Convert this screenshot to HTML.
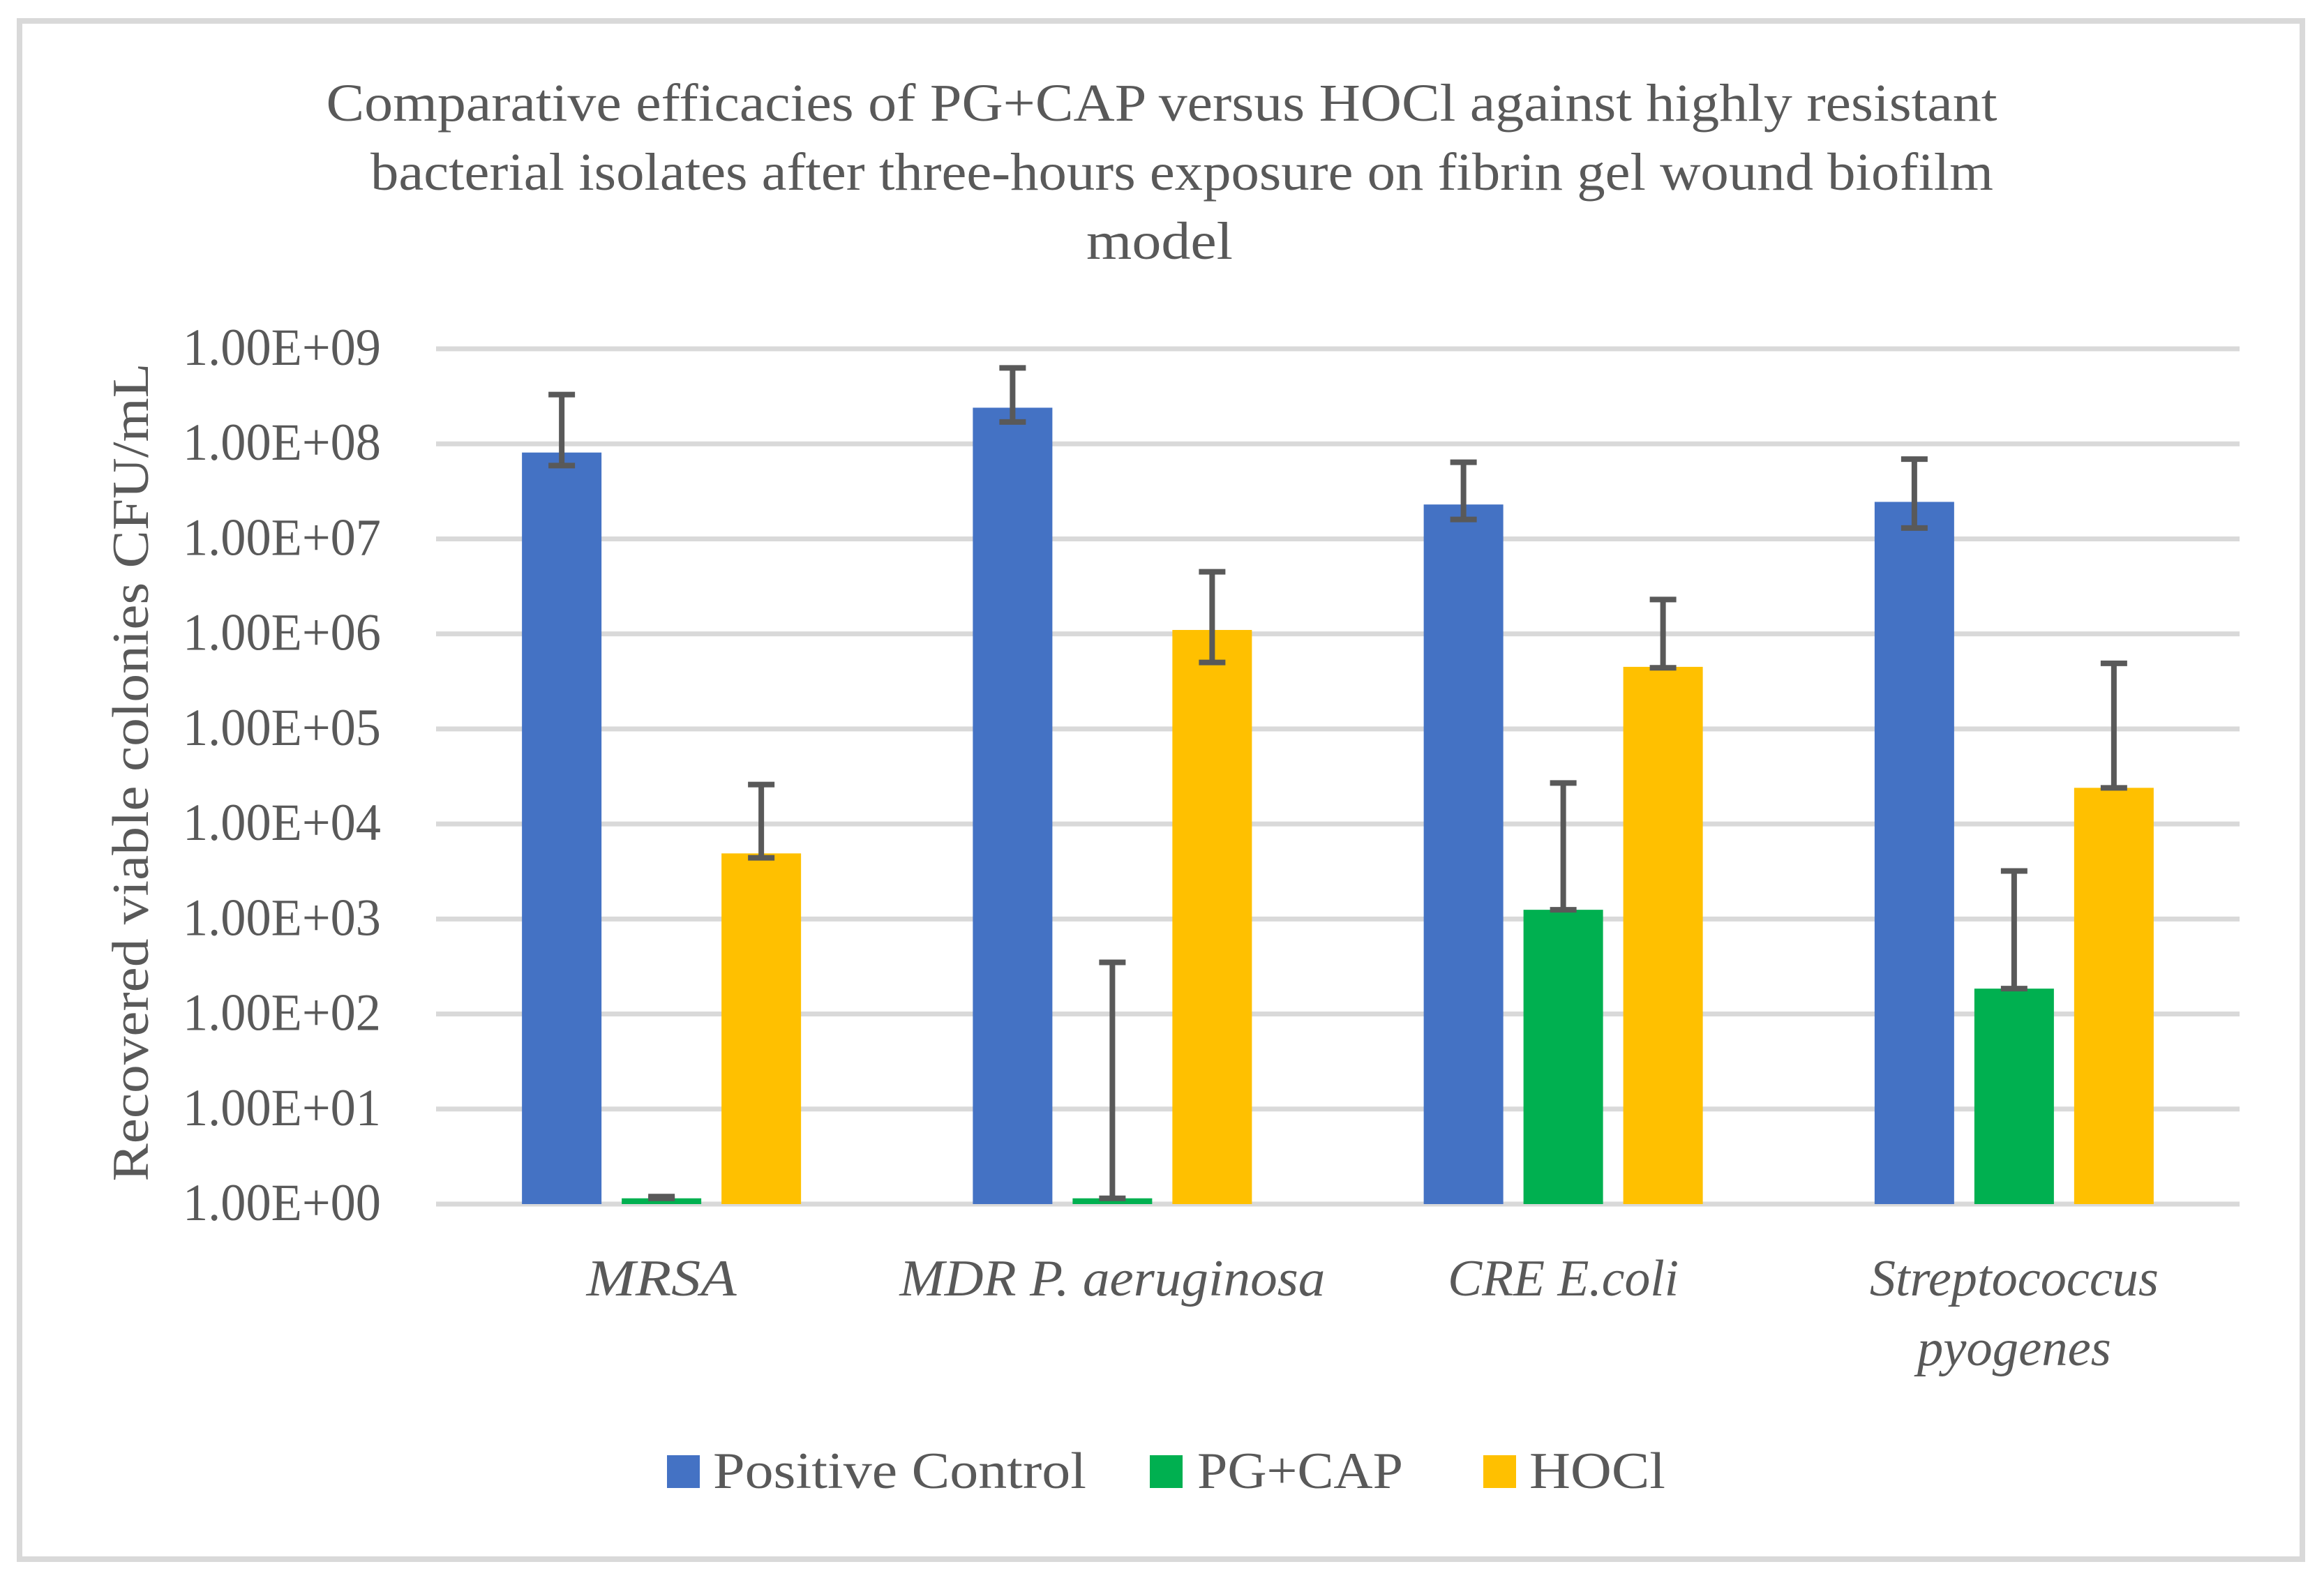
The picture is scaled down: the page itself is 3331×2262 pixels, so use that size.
<!DOCTYPE html>
<html>
<head>
<meta charset="utf-8">
<style>
  html, body { margin: 0; padding: 0; background: #ffffff; }
  svg { display: block; }
  text { font-family: "Liberation Serif", serif; fill: #595959; }
</style>
</head>
<body>
<svg id="chart" width="3331" height="2262" viewBox="0 0 3331 2262" xmlns="http://www.w3.org/2000/svg">
  <rect x="0" y="0" width="3331" height="2262" fill="#ffffff"/>
  <rect x="28" y="30" width="3272" height="2205" fill="none" stroke="#d9d9d9" stroke-width="8"/>
  <g>
    <text x="1665" y="173" font-size="76" text-anchor="middle" textLength="2395" lengthAdjust="spacingAndGlyphs">Comparative efficacies of PG+CAP versus HOCl against highly resistant</text>
    <text x="1694" y="272" font-size="76" text-anchor="middle" textLength="2326" lengthAdjust="spacingAndGlyphs">bacterial isolates after three-hours exposure on fibrin gel wound biofilm</text>
    <text x="1662" y="371" font-size="76" text-anchor="middle" textLength="210" lengthAdjust="spacingAndGlyphs">model</text>
  </g>
  <text x="0" y="0" font-size="74" text-anchor="middle" textLength="1173" lengthAdjust="spacingAndGlyphs" transform="translate(212,1107) rotate(-90)">Recovered viable colonies CFU/mL</text>
  <g id="grid"></g>
  <g id="yticks"></g>
  <g id="bars"></g>
  <g id="errs"></g>
  <g id="xlabels"></g>
  <g>
    <g>
      <rect x="956" y="2086" width="47" height="47" fill="#4472c4"/>
      <text x="1022" y="2133" font-size="74" textLength="535" lengthAdjust="spacingAndGlyphs">Positive Control</text>
    </g>
    <g>
      <rect x="1648" y="2086" width="47" height="47" fill="#00b050"/>
      <text x="1716" y="2133" font-size="74" textLength="295" lengthAdjust="spacingAndGlyphs">PG+CAP</text>
    </g>
    <g>
      <rect x="2126" y="2086" width="47" height="47" fill="#ffc000"/>
      <text x="2192" y="2133" font-size="74" textLength="195" lengthAdjust="spacingAndGlyphs">HOCl</text>
    </g>
  </g>
</svg>
<script>
const categories = ["MRSA", "MDR P. aeruginosa", "CRE E.coli", "Streptococcus|pyogenes"];
const seriesNames = ["Positive Control", "PG+CAP", "HOCl"];
const positiveControl = [8.1e7, 2.4e8, 2.3e7, 2.45e7];
const pgCap = [1.15, 1.15, 1.25e3, 1.85e2];
const hocl = [4.9e3, 1.1e6, 4.5e5, 2.4e4];
const positiveControlUpper = [3.3e8, 6.3e8, 6.4e7, 6.9e7];
const positiveControlLower = [5.9e7, 1.7e8, 1.6e7, 1.3e7];
const pgCapUpper = [1.2, 3.5e2, 2.7e4, 3.2e3];
const pgCapLower = [1.15, 1.15, 1.25e3, 1.85e2];
const hoclUpper = [2.6e4, 4.5e6, 2.3e6, 4.9e5];
const hoclLower = [4.4e3, 5.0e5, 4.4e5, 2.4e4];
const tickLabels = ["1.00E+00","1.00E+01","1.00E+02","1.00E+03","1.00E+04","1.00E+05","1.00E+06","1.00E+07","1.00E+08","1.00E+09"];
const labelWidths = {"MRSA": 215, "MDR P. aeruginosa": 610, "CRE E.coli": 331, "Streptococcus": 414, "pyogenes": 278};

const NS = "http://www.w3.org/2000/svg";
const plotL = 625, plotR = 3210, yBase = 1726, yTop = 500;
const minLog = 0, maxLog = 9;
function yScale(v) { const l = Math.log10(v); return yBase - (l - minLog) / (maxLog - minLog) * (yBase - yTop); }
const catW = (plotR - plotL) / categories.length;
function xCenter(i) { return plotL + catW * (i + 0.5); }
const barW = 114, barStep = 143;
const colors = ["#4472c4", "#00b050", "#ffc000"];
const values = [positiveControl, pgCap, hocl];
const uppers = [positiveControlUpper, pgCapUpper, hoclUpper];
const lowers = [positiveControlLower, pgCapLower, hoclLower];
const seriesKeys = ["positive-control", "pg-cap", "hocl"];

function mk(tag, attrs) { const e = document.createElementNS(NS, tag); for (const k in attrs) e.setAttribute(k, attrs[k]); return e; }

const grid = document.getElementById("grid");
const yt = document.getElementById("yticks");
tickLabels.forEach((t, i) => {
  const y = yScale(Math.pow(10, i));
  const ln = mk("line", {x1: plotL, x2: plotR, y1: y, y2: y, stroke: "#d9d9d9", "stroke-width": 7});
  
  
  grid.appendChild(ln);
  const tx = mk("text", {x: 546, y: y + 23, "font-size": 75, "text-anchor": "end", textLength: 284, lengthAdjust: "spacingAndGlyphs"});
  tx.textContent = t;
  
  
  yt.appendChild(tx);
});

const bars = document.getElementById("bars");
const errs = document.getElementById("errs");
categories.forEach((c, i) => {
  for (let s = 0; s < 3; s++) {
    const cx = xCenter(i) + (s - 1) * barStep;
    const top = yScale(values[s][i]);
    const r = mk("rect", {x: cx - barW / 2, y: top, width: barW, height: yBase - top, fill: colors[s]});
    
    
    bars.appendChild(r);
    const yu = yScale(uppers[s][i]), yl = yScale(lowers[s][i]);
    const g = mk("g", {stroke: "#595959", "stroke-width": 8, fill: "none"});
    
    
    g.appendChild(mk("line", {x1: cx, x2: cx, y1: yu, y2: yl}));
    g.appendChild(mk("line", {x1: cx - 19, x2: cx + 19, y1: yu, y2: yu}));
    g.appendChild(mk("line", {x1: cx - 19, x2: cx + 19, y1: yl, y2: yl}));
    errs.appendChild(g);
  }
  const parts = c.split("|");
  parts.forEach((p, k) => {
    const attrs = {x: xCenter(i), y: 1857 + k * 100, "font-size": 74, "font-style": "italic", "text-anchor": "middle"};
    if (labelWidths[p]) { attrs.textLength = labelWidths[p]; attrs.lengthAdjust = "spacingAndGlyphs"; }
    const tx = mk("text", attrs);
    tx.textContent = p;
    
    
    document.getElementById("xlabels").appendChild(tx);
  });
});
</script>
</body>
</html>
